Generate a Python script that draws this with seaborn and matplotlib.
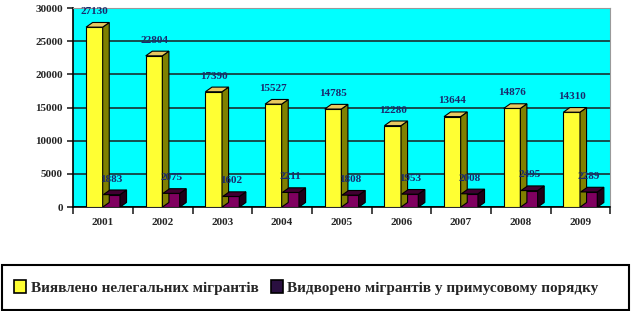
import matplotlib
matplotlib.use('Agg')
import matplotlib.pyplot as plt
import seaborn as sns
import pandas as pd
from matplotlib.patches import Patch, Rectangle, Polygon

# Дані з діаграми
years = ['2001', '2002', '2003', '2004', '2005', '2006', '2007', '2008', '2009']
detected = [27130, 22804, 17390, 15527, 14785, 12280, 13644, 14876, 14310]
deported = [1883, 2075, 1602, 2211, 1808, 1953, 2008, 2495, 2289]
series_names = ['Виявлено нелегальних мігрантів', 'Видворено мігрантів у примусовому порядку']

df = pd.DataFrame({
    'year': years * 2,
    'value': detected + deported,
    'series': [series_names[0]] * len(years) + [series_names[1]] * len(years),
})

sns.set_style('white')
plt.rcParams['font.family'] = ['Liberation Serif', 'DejaVu Serif']

fig = plt.figure(figsize=(6.31, 3.11), dpi=100)
ax = fig.add_axes([0.116, 0.334, 0.851, 0.64])
ax.set_facecolor('#00FFFF')

sns.barplot(data=df, x='year', y='value', hue='series', ax=ax,
            palette=['#FFFF33', '#800060'], saturation=1, width=0.58, gap=0.04,
            edgecolor='black', linewidth=0.8, legend=False, zorder=3)

ax.set_ylim(0, 30000)
ax.set_xlim(-0.5, len(years) - 0.5)

# псевдо-3D: бічна та верхня грані
dx, dy = 0.11, 700
sides = ['#808000', '#200018']
tops = ['#E8C860', '#400030']
for cont, sc, tc in zip(ax.containers, sides, tops):
    for p in cont.patches:
        x0, w, h = p.get_x(), p.get_width(), p.get_height()
        x1 = x0 + w
        ax.add_patch(Polygon([(x1, 0), (x1 + dx, dy), (x1 + dx, h + dy), (x1, h)],
                             closed=True, facecolor=sc, edgecolor='black', linewidth=0.8, zorder=3))
        ax.add_patch(Polygon([(x0, h), (x0 + dx, h + dy), (x1 + dx, h + dy), (x1, h)],
                             closed=True, facecolor=tc, edgecolor='black', linewidth=0.8, zorder=3))

# підписи значень
for cont in ax.containers:
    ax.bar_label(cont, fmt='%d', padding=8, fontsize=8, fontweight='bold', color='#1a2a6c', zorder=5)

ax.set_yticks(range(0, 30001, 5000))
ax.grid(axis='y', color='#1a3030', linewidth=1.2, zorder=0)
ax.set_axisbelow(True)
ax.set_xlabel('')
ax.set_ylabel('')
for s in ['top', 'right']:
    ax.spines[s].set_color('#999999')
for s in ['left', 'bottom']:
    ax.spines[s].set_color('black')
    ax.spines[s].set_linewidth(1.2)
ax.tick_params(axis='y', which='major', direction='out', length=4, width=1.2, left=True,
               labelsize=8)
ax.tick_params(axis='x', length=0, labelsize=8, pad=8)
ax.set_xticks([i + 0.5 for i in range(-1, len(years))], minor=True)
ax.tick_params(axis='x', which='minor', direction='out', length=5, width=1.2, bottom=True)
for lbl in ax.get_xticklabels() + ax.get_yticklabels():
    lbl.set_fontweight('bold')

# легенда внизу в рамці
fig.patches.append(Rectangle((0.003, 0.003), 0.994, 0.145, transform=fig.transFigure,
                             fill=False, edgecolor='black', linewidth=1.5))
handles = [Patch(facecolor='#FFFF33', edgecolor='black', linewidth=1.2),
           Patch(facecolor='#2a1040', edgecolor='black', linewidth=1.2)]
fig.legend(handles, series_names, loc='center left', bbox_to_anchor=(0.0, 0.075),
           ncol=2, frameon=False, handlelength=0.8, handleheight=0.9,
           handletextpad=0.3, columnspacing=0.8, prop={'weight': 'bold', 'size': 11})

fig.savefig('out.png', dpi=100)
